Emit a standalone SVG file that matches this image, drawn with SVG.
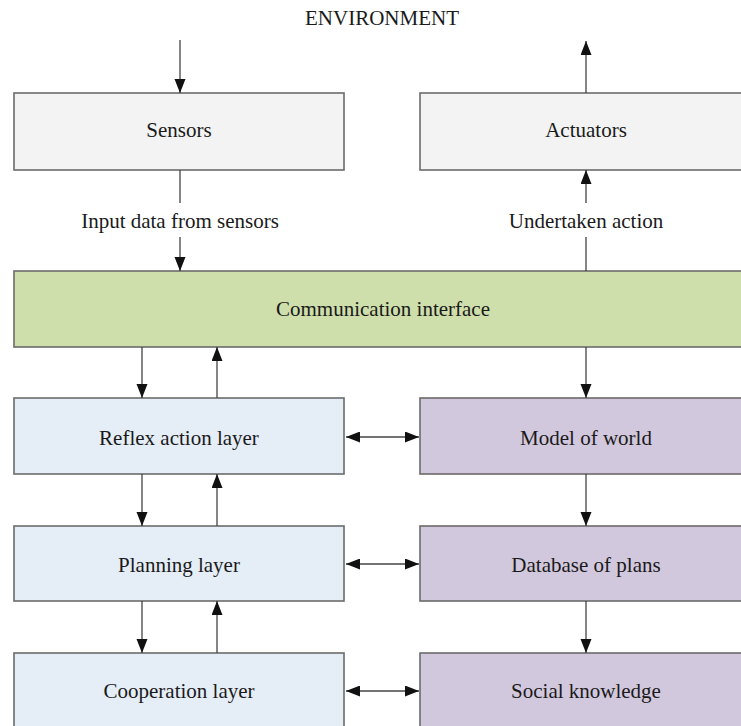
<svg xmlns="http://www.w3.org/2000/svg" width="741" height="726" viewBox="0 0 741 726">
<style>
text{font-family:"Liberation Serif","Times New Roman",serif;font-size:21px;fill:#1a1a1a;text-anchor:middle}
.box{stroke:#6b6b6b;stroke-width:1.6}
.grey{fill:#f3f3f3}
.green{fill:#cedfab}
.blue{fill:#e5edf7}
.purple{fill:#d2c8de}
.c line{stroke:#444;stroke-width:1.3}
.e{marker-end:url(#ah)}
.b{marker-start:url(#ahs);marker-end:url(#ah)}
</style>
<defs>
<marker id="ah" markerUnits="userSpaceOnUse" markerWidth="15" markerHeight="12" refX="14" refY="5.5" orient="auto">
<path d="M0,0 L14,5.5 L0,11 z" fill="#111"/>
</marker>
<marker id="ahs" markerUnits="userSpaceOnUse" markerWidth="15" markerHeight="12" refX="0" refY="5.5" orient="auto">
<path d="M14,0 L0,5.5 L14,11 z" fill="#111"/>
</marker>
</defs>
<rect width="741" height="726" fill="#ffffff"/>
<text x="382" y="25">ENVIRONMENT</text>
<g id="sensors"><rect class="box grey" x="14" y="93" width="330" height="77"/><text x="179" y="137">Sensors</text></g>
<g id="actuators"><rect class="box grey" x="420" y="93" width="340" height="77"/><text x="586" y="137">Actuators</text></g>
<g id="comm"><rect class="box green" x="14" y="271" width="746" height="76"/><text x="383" y="316">Communication interface</text></g>
<g id="reflex"><rect class="box blue" x="14" y="398" width="330" height="76"/><text x="179" y="445">Reflex action layer</text></g>
<g id="model"><rect class="box purple" x="420" y="398" width="340" height="76"/><text x="586" y="445">Model of world</text></g>
<g id="planning"><rect class="box blue" x="14" y="526" width="330" height="75"/><text x="179" y="572">Planning layer</text></g>
<g id="database"><rect class="box purple" x="420" y="526" width="340" height="75"/><text x="586" y="572">Database of plans</text></g>
<g id="cooperation"><rect class="box blue" x="14" y="653" width="330" height="90"/><text x="179" y="698">Cooperation layer</text></g>
<g id="social"><rect class="box purple" x="420" y="653" width="340" height="90"/><text x="586" y="698">Social knowledge</text></g>
<g class="c" id="connectors">
<line class="e" x1="180" y1="40" x2="180" y2="93"/>
<line class="e" x1="586" y1="93" x2="586" y2="41"/>
<line x1="180" y1="170" x2="180" y2="203"/>
<line class="e" x1="180" y1="237" x2="180" y2="271"/>
<text x="180" y="228">Input data from sensors</text>
<line x1="586" y1="271" x2="586" y2="237"/>
<line class="e" x1="586" y1="203" x2="586" y2="170"/>
<text x="586" y="228">Undertaken action</text>
<line class="e" x1="142" y1="347" x2="142" y2="398"/>
<line class="e" x1="217" y1="398" x2="217" y2="347"/>
<line class="e" x1="586" y1="347" x2="586" y2="398"/>
<line class="e" x1="142" y1="474" x2="142" y2="526"/>
<line class="e" x1="217" y1="526" x2="217" y2="474"/>
<line class="e" x1="586" y1="474" x2="586" y2="526"/>
<line class="e" x1="142" y1="601" x2="142" y2="653"/>
<line class="e" x1="217" y1="653" x2="217" y2="601"/>
<line class="e" x1="586" y1="601" x2="586" y2="653"/>
<line class="b" x1="346" y1="437" x2="419" y2="437"/>
<line class="b" x1="346" y1="564" x2="419" y2="564"/>
<line class="b" x1="346" y1="691" x2="419" y2="691"/>
</g>
</svg>
